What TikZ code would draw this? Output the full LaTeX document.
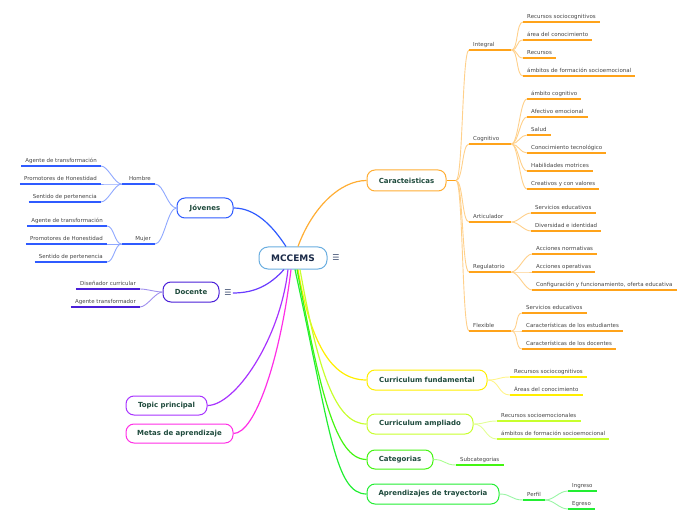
\documentclass[tikz,border=0pt]{standalone}
\usepackage{fontspec}
\setmainfont{DejaVu Sans}
\definecolor{txt}{HTML}{444444}
\definecolor{nodetxt}{HTML}{1E4A3C}
\definecolor{mccTxt}{HTML}{1A2A48}
\definecolor{cMcc}{HTML}{6AAEE0}
\definecolor{cO}{HTML}{FFA31A}
\definecolor{cOl}{HTML}{FFD08A}
\definecolor{cOb}{HTML}{FFAD33}
\definecolor{cB}{HTML}{2F5BFF}
\definecolor{cBl}{HTML}{8FA8FF}
\definecolor{cP}{HTML}{4A1FD8}
\definecolor{cPl}{HTML}{A090EE}
\definecolor{cPc}{HTML}{6A3CFF}
\definecolor{cV}{HTML}{A833FF}
\definecolor{cM}{HTML}{FF2EE6}
\definecolor{cY}{HTML}{FFEE00}
\definecolor{cYl}{HTML}{FFF48A}
\definecolor{cYG}{HTML}{C8FF2E}
\definecolor{cYGl}{HTML}{E2FF95}
\definecolor{cG}{HTML}{44F511}
\definecolor{cGl}{HTML}{AAFF90}
\definecolor{cGt}{HTML}{22EE33}
\definecolor{cGtl}{HTML}{99F5A5}
\definecolor{iconC}{HTML}{3A4A6E}
\begin{document}
\begin{tikzpicture}[x=1bp,y=-1bp,
  box/.style={draw=#1, line width=1bp, rounded corners=8bp, fill=white,
    font=\fontsize{7}{8}\selectfont\bfseries, text=nodetxt, inner sep=0pt},
  lf/.style={font=\fontsize{5.5}{6.6}\selectfont, text=txt, inner xsep=4bp, inner ysep=2.6bp,
    text height=4pt, text depth=1.2pt},
  lfc/.style={lf, text width=34bp, align=left},
  lfr/.style={lf, text width=25bp, align=right},
  ul/.style={draw=#1, line width=2bp},
  icon/.style={font=\fontsize{8}{8}\selectfont, text=iconC, inner sep=1pt},
  con/.style={draw=#1, line width=1.2bp},
  br/.style={draw=#1, line width=0.9bp, out=0, in=180, distance=7bp},
  bl/.style={draw=#1, line width=0.9bp, out=180, in=0, distance=7bp},
]
\useasboundingbox (0,0) rectangle (696,520);

% ---------- main nodes ----------
\node[box=cMcc, font=\fontsize{9}{10}\selectfont\bfseries, text=mccTxt, minimum width=68bp, minimum height=22bp, rounded corners=9bp] (mcc) at (293,258) {MCCEMS};
\node[icon] (mccI) at (336,258) {☰};
\node[box=cOb, minimum width=79bp, minimum height=21bp] (car) at (406.5,180.5) {Caracteisticas};
\node[box=cB, minimum width=56bp, minimum height=20bp] (jov) at (205,208) {Jóvenes};
\node[box=cP, minimum width=56bp, minimum height=20bp] (doc) at (191,292) {Docente};
\node[icon] (docI) at (228,293) {☰};
\node[box=cV, minimum width=81bp, minimum height=19bp] (top) at (166.5,405.5) {Topic principal};
\node[box=cM, minimum width=107bp, minimum height=19bp] (met) at (179.5,433.5) {Metas de aprendizaje};
\node[box=cY, minimum width=120bp, minimum height=20bp] (cf) at (427,380) {Curriculum fundamental};
\node[box=cYG, minimum width=106bp, minimum height=20bp] (ca) at (420,424) {Curriculum ampliado};
\node[box=cG, minimum width=66bp, minimum height=19bp] (cat) at (400,459.5) {Categorias};
\node[box=cGt, minimum width=132bp, minimum height=20bp] (apr) at (433,494) {Aprendizajes de trayectoria};

% ---------- Caracteisticas ----------
\coordinate (carJ) at (456,180.5);
\node[lfc, anchor=south west] (int) at (469,50) {Integral};
\node[lfc, anchor=south west] (cog) at (469,144) {Cognitivo};
\node[lfc, anchor=south west] (art) at (469,222) {Articulador};
\node[lfc, anchor=south west] (reg) at (469,272) {Regulatorio};
\node[lfc, anchor=south west] (flx) at (469,331) {Flexible};

\node[lf, anchor=south west] (i1) at (523,22) {Recursos sociocognitivos};
\node[lf, anchor=south west] (i2) at (523,40) {área del conocimiento};
\node[lf, anchor=south west] (i3) at (523,58) {Recursos};
\node[lf, anchor=south west] (i4) at (523,76) {ámbitos de formación socioemocional};

\node[lf, anchor=south west] (c1) at (527,99) {ámbito cognitivo};
\node[lf, anchor=south west] (c2) at (527,117) {Afectivo emocional};
\node[lf, anchor=south west] (c3) at (527,135) {Salud};
\node[lf, anchor=south west] (c4) at (527,153) {Conocimiento tecnológico};
\node[lf, anchor=south west] (c5) at (527,171) {Habilidades motrices};
\node[lf, anchor=south west] (c6) at (527,189) {Creativos y con valores};

\node[lf, anchor=south west] (a1) at (531,213) {Servicios educativos};
\node[lf, anchor=south west] (a2) at (531,231) {Diversidad e identidad};

\node[lf, anchor=south west] (r1) at (532,254) {Acciones normativas};
\node[lf, anchor=south west] (r2) at (532,272) {Acciones operativas};
\node[lf, anchor=south west] (r3) at (532,290) {Configuración y funcionamiento, oferta educativa};

\node[lf, anchor=south west] (f1) at (522,313) {Servicios educativos};
\node[lf, anchor=south west] (f2) at (522,331) {Características de los estudiantes};
\node[lf, anchor=south west] (f3) at (522,349) {Características de los docentes};

\draw[con=cO, line width=1.6bp] (car.east) -- (carJ);
\foreach \n in {int,cog,art,reg,flx} \draw[br=cOl] (carJ) to (\n.south west);
\foreach \n in {i1,i2,i3,i4} \draw[br=cOl] (int.south east) to (\n.south west);
\foreach \n in {c1,c2,c3,c4,c5,c6} \draw[br=cOl] (cog.south east) to (\n.south west);
\foreach \n in {a1,a2} \draw[br=cOl] (art.south east) to (\n.south west);
\foreach \n in {r1,r2,r3} \draw[br=cOl] (reg.south east) to (\n.south west);
\foreach \n in {f1,f2,f3} \draw[br=cOl] (flx.south east) to (\n.south west);
\foreach \n in {int,cog,art,reg,flx,i1,i2,i3,i4,c1,c2,c3,c4,c5,c6,a1,a2,r1,r2,r3,f1,f2,f3}
  \draw[ul=cO] (\n.south west) -- (\n.south east);

% ---------- Jovenes ----------
\node[lfr, anchor=south east] (hom) at (155,184) {Hombre};
\node[lfr, anchor=south east] (muj) at (155,244) {Mujer};
\node[lf, anchor=south east] (h1) at (101,166) {Agente de transformación};
\node[lf, anchor=south east] (h2) at (101,184) {Promotores de Honestidad};
\node[lf, anchor=south east] (h3) at (101,202) {Sentido de pertenencia};
\node[lf, anchor=south east] (m1) at (107,226) {Agente de transformación};
\node[lf, anchor=south east] (m2) at (107,244) {Promotores de Honestidad};
\node[lf, anchor=south east] (m3) at (107,262) {Sentido de pertenencia};
\foreach \n in {hom,muj} \draw[bl=cBl, distance=9bp] (jov.west) to (\n.south east);
\foreach \n in {h1,h2,h3} \draw[bl=cBl] (hom.south west) to (\n.south east);
\foreach \n in {m1,m2,m3} \draw[bl=cBl] (muj.south west) to (\n.south east);
\foreach \n in {hom,muj,h1,h2,h3,m1,m2,m3}
  \draw[ul=cB] (\n.south west) -- (\n.south east);

% ---------- Docente ----------
\node[lf, anchor=south east] (d1) at (140,289) {Diseñador curricular};
\node[lf, anchor=south east] (d2) at (140,307) {Agente transformador};
\foreach \n in {d1,d2} \draw[bl=cPl] (doc.west) to (\n.south east);
\foreach \n in {d1,d2} \draw[ul=cP] (\n.south west) -- (\n.south east);

% ---------- lower right ----------
\node[lf, anchor=south west] (y1) at (510,377) {Recursos sociocognitivos};
\node[lf, anchor=south west] (y2) at (510,395) {Áreas del conocimiento};
\foreach \n in {y1,y2} \draw[br=cYl, distance=12bp] (cf.east) to (\n.south west);
\foreach \n in {y1,y2} \draw[ul=cY] (\n.south west) -- (\n.south east);

\node[lf, anchor=south west] (g1) at (497,421) {Recursos socioemocionales};
\node[lf, anchor=south west] (g2) at (497,439) {ámbitos de formación socioemocional};
\foreach \n in {g1,g2} \draw[br=cYGl, distance=12bp] (ca.east) to (\n.south west);
\foreach \n in {g1,g2} \draw[ul=cYG] (\n.south west) -- (\n.south east);

\node[lf, anchor=south west] (s1) at (456,465) {Subcategorias};
\draw[br=cGl, distance=12bp] (cat.east) to (s1.south west);
\draw[ul=cG] (s1.south west) -- (s1.south east);

\node[lf, anchor=south west] (p1) at (523,500) {Perfil};
\node[lf, anchor=south west] (p2) at (568,491) {Ingreso};
\node[lf, anchor=south west] (p3) at (568,509) {Egreso};
\draw[br=cGtl, distance=12bp] (apr.east) to (p1.south west);
\foreach \n in {p2,p3} \draw[br=cGtl, distance=9bp] (p1.south east) to (\n.south west);
\foreach \n in {p1,p2,p3} \draw[ul=cGt] (\n.south west) -- (\n.south east);

% ---------- central connectors ----------
\draw[con=cB] ([xshift=-7bp]mcc.north) .. controls (272,225) and (255,208) .. (jov.east);
\draw[con=cOb] ([xshift=5bp]mcc.north) .. controls (312,208) and (340,180.5) .. (car.west);
\draw[con=cPc] ([xshift=-9bp]mcc.south) .. controls (270,285) and (255,293) .. (docI.east);
\draw[con=cV] ([xshift=-5bp]mcc.south) .. controls (280,340) and (235,405.5) .. (top.east);
\draw[con=cM] ([xshift=-2bp]mcc.south) .. controls (280,360) and (255,433.5) .. (met.east);
\draw[con=cY] ([xshift=5bp]mcc.south) .. controls (310,340) and (330,380) .. (cf.west);
\draw[con=cYG] ([xshift=7bp]mcc.south) .. controls (318,370) and (335,424) .. (ca.west);
\draw[con=cG] ([xshift=4bp]mcc.south) .. controls (320,390) and (335,459.5) .. (cat.west);
\draw[con=cGt] ([xshift=2bp]mcc.south) .. controls (330,430) and (335,494) .. (apr.west);
\end{tikzpicture}
\end{document}
